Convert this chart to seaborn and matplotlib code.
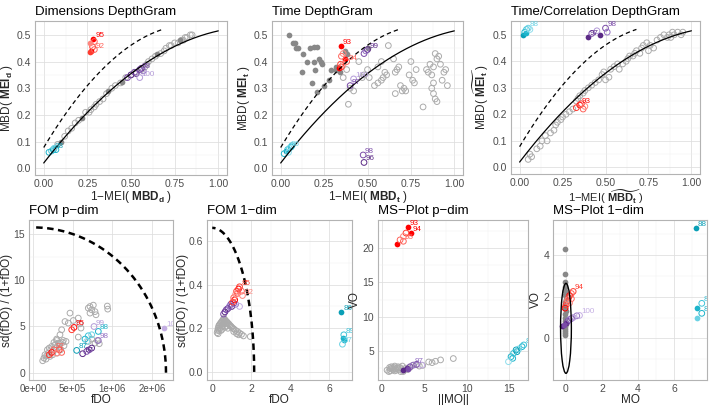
import numpy as np
import pandas as pd
import matplotlib
matplotlib.use("Agg")
import matplotlib.pyplot as plt
from matplotlib.patches import Ellipse
import seaborn as sns

sns.set_theme(style="whitegrid")
plt.rcParams['font.family'] = ['Liberation Sans', 'DejaVu Sans']
plt.rcParams['mathtext.fontset'] = 'custom'
plt.rcParams['mathtext.rm'] = 'Liberation Sans'
plt.rcParams['mathtext.bf'] = 'Liberation Sans:bold'
plt.rcParams['mathtext.it'] = 'Liberation Sans:italic'

# ---------------- data ----------------
# reference curves of the DepthGram (quadratic coefficients, x range)
curve_solid = [0.02, 0.845, -0.35]
curve_solid_xmax = 1.0
curve_dash = [0.078, 1.089, -0.645]
curve_dash_xmax = 0.68

# Panel 1: Dimensions DepthGram
p1_gray_x = [0.08, 0.12, 0.14, 0.16, 0.18, 0.20, 0.24, 0.26, 0.27, 0.29, 0.30, 0.32, 0.34, 0.36, 0.39,
             0.41, 0.44, 0.47, 0.50, 0.53, 0.56, 0.58, 0.59, 0.60, 0.62, 0.64, 0.67, 0.69, 0.70, 0.72,
             0.73, 0.75, 0.77, 0.79, 0.80, 0.81, 0.82, 0.84, 0.85]
p1_gray_y = [0.09, 0.12, 0.14, 0.15, 0.17, 0.18, 0.21, 0.21, 0.22, 0.23, 0.24, 0.25, 0.26, 0.28, 0.30,
             0.31, 0.32, 0.34, 0.35, 0.36, 0.37, 0.38, 0.39, 0.40, 0.41, 0.42, 0.43, 0.44, 0.45, 0.46,
             0.46, 0.47, 0.47, 0.48, 0.48, 0.49, 0.49, 0.50, 0.50]
p1_grayf_x = [0.10, 0.22, 0.37, 0.45, 0.65, 0.78]
p1_grayf_y = [0.10, 0.19, 0.29, 0.325, 0.43, 0.48]
p1_out_x = [0.285, 0.29, 0.265, 0.28, 0.29, 0.27, 0.265,
            0.03, 0.045, 0.055, 0.06, 0.07,
            0.48, 0.50, 0.52, 0.53, 0.55, 0.57, 0.55, 0.56]
p1_out_y = [0.485, 0.475, 0.47, 0.455, 0.445, 0.44, 0.435,
            0.06, 0.065, 0.07, 0.075, 0.07,
            0.34, 0.35, 0.36, 0.355, 0.37, 0.365, 0.34, 0.375]
p1_out_lab = ['95', '', '', '', '92', '', '',
              '', '', '88', '', '',
              '', '', '', '', '98', '', '100', '']
p1_out_col = ['r0', 'r2', 'r3', 'r1', 'r2', 'r0', 'r1',
              'c1', 'c2', 'c0', 'c3', 'c1',
              'p1', 'p0', 'p1', 'p0', 'p1', 'p2', 'p3', 'p0']
p1_out_fill = [1, 0, 1, 0, 0, 1, 1,
               0, 0, 0, 0, 0,
               0, 0, 0, 0, 0, 0, 0, 0]

# Panel 2: Time DepthGram
p2_grayf_x = [0.05, 0.07, 0.08, 0.09, 0.10, 0.13, 0.17, 0.19, 0.21, 0.15, 0.19, 0.12, 0.22, 0.23, 0.24,
              0.20, 0.18, 0.21, 0.25, 0.28, 0.29, 0.32, 0.34, 0.32, 0.37, 0.38, 0.50, 0.37]
p2_grayf_y = [0.50, 0.47, 0.47, 0.45, 0.45, 0.43, 0.45, 0.455, 0.455, 0.40, 0.40, 0.36, 0.41, 0.40, 0.39,
              0.37, 0.32, 0.285, 0.31, 0.33, 0.37, 0.37, 0.36, 0.38, 0.44, 0.43, 0.45, 0.41]
p2_gray_x = [0.39, 0.40, 0.42, 0.45, 0.48, 0.50, 0.51, 0.54, 0.56, 0.58, 0.59, 0.61, 0.58, 0.62, 0.65,
             0.66, 0.67, 0.68, 0.69, 0.70, 0.71, 0.72, 0.74, 0.75, 0.76, 0.77, 0.78, 0.82, 0.84, 0.85,
             0.86, 0.87, 0.87, 0.88, 0.88, 0.88, 0.89, 0.90, 0.89, 0.90, 0.91, 0.92, 0.93, 0.94, 0.95,
             0.96, 0.56, 0.60, 0.47, 0.66, 0.38, 0.36]
p2_gray_y = [0.24, 0.30, 0.29, 0.40, 0.35, 0.37, 0.34, 0.31, 0.32, 0.33, 0.34, 0.35, 0.40, 0.46, 0.41,
             0.28, 0.37, 0.38, 0.31, 0.29, 0.30, 0.29, 0.35, 0.40, 0.33, 0.32, 0.37, 0.23, 0.37, 0.36,
             0.39, 0.35, 0.30, 0.38, 0.32, 0.28, 0.26, 0.25, 0.43, 0.41, 0.42, 0.39, 0.33, 0.36, 0.37,
             0.31, 0.38, 0.36, 0.34, 0.36, 0.37, 0.34]
p2_out_x = [0.35, 0.36, 0.35, 0.37, 0.38, 0.345, 0.36, 0.35, 0.335,
            0.48, 0.49, 0.50, 0.42, 0.40, 0.475, 0.48,
            0.02, 0.03, 0.04, 0.05, 0.06, 0.045, 0.065]
p2_out_y = [0.46, 0.43, 0.42, 0.41, 0.40, 0.39, 0.39, 0.38, 0.375,
            0.43, 0.44, 0.445, 0.335, 0.31, 0.05, 0.022,
            0.055, 0.065, 0.07, 0.075, 0.08, 0.06, 0.085]
p2_out_lab = ['93', '', '', '', '94', '', '', '', '',
              '', '', '99', '100', '97', '98', '96',
              '', '', '', '86', '', '', '']
p2_out_col = ['r0', 'r3', 'r2', 'r0', 'r2', 'r1', 'r3', 'r1', 'r0',
              'p1', 'p2', 'p0', 'p3', 'p1', 'p1', 'p0',
              'c1', 'c0', 'c2', 'c3', 'c1', 'c4', 'c2']
p2_out_fill = [1, 0, 0, 1, 0, 0, 0, 0, 1,
               0, 0, 0, 0, 0, 0, 0,
               0, 1, 0, 0, 0, 0, 0]

# Panel 3: Time/Correlation DepthGram
p3_gray_x = [0.05, 0.07, 0.06, 0.10, 0.12, 0.13, 0.15, 0.16, 0.18, 0.20, 0.21, 0.22, 0.24, 0.25, 0.27,
             0.29, 0.31, 0.33, 0.34, 0.35, 0.37, 0.38, 0.40, 0.42, 0.44, 0.46, 0.48, 0.49, 0.50, 0.52,
             0.53, 0.55, 0.57, 0.58, 0.60, 0.62, 0.63, 0.64, 0.66, 0.67, 0.68, 0.70, 0.71, 0.72, 0.74,
             0.75, 0.76, 0.78, 0.80, 0.82, 0.84, 0.86, 0.87, 0.88, 0.89, 0.90, 0.92, 0.94, 0.95]
p3_gray_y = [0.03, 0.04, 0.05, 0.07, 0.08, 0.10, 0.12, 0.10, 0.13, 0.14, 0.16, 0.17, 0.18, 0.19, 0.20,
             0.21, 0.22, 0.25, 0.26, 0.27, 0.28, 0.29, 0.30, 0.31, 0.32, 0.33, 0.35, 0.36, 0.33, 0.34,
             0.37, 0.38, 0.39, 0.37, 0.39, 0.40, 0.41, 0.42, 0.42, 0.43, 0.44, 0.43, 0.45, 0.46, 0.47,
             0.44, 0.46, 0.45, 0.48, 0.49, 0.50, 0.49, 0.50, 0.49, 0.51, 0.50, 0.51, 0.50, 0.51]
p3_out_x = [0.02, 0.03, 0.04, 0.05, 0.06, 0.035,
            0.40, 0.42, 0.47, 0.45, 0.50, 0.51,
            0.33, 0.35, 0.37, 0.38, 0.36]
p3_out_y = [0.50, 0.51, 0.52, 0.525, 0.52, 0.505,
            0.49, 0.505, 0.50, 0.515, 0.525, 0.51,
            0.225, 0.235, 0.22, 0.23, 0.24]
p3_out_lab = ['', '', '', '88', '', '',
              '97', '', '', '', '98', '',
              '', '93', '', '', '']
p3_out_col = ['c0', 'c1', 'c2', 'c3', 'c4', 'c1',
              'p0', 'p1', 'p0', 'p3', 'p1', 'p2',
              'r1', 'r0', 'r2', 'r3', 'r1']
p3_out_fill = [1, 0, 0, 0, 0, 1,
               1, 0, 1, 0, 0, 0,
               0, 0, 0, 0, 0]

# Panel 4: FOM p-dim (fDO on a square-root axis)
fom_p_arc = [2.82e6, 15.7]
p4_ticks = [0, 2.5e5, 1.0e6, 2.25e6]
p4_ticklabels = ['0e+00', '5e+05', '1e+06', '2e+06']
p4_gray_x = [1.5e4, 1.9e4, 2.7e4, 3.0e4, 3.8e4, 4.6e4, 5.0e4, 5.6e4, 6.6e4, 7.7e4, 8.4e4, 9.4e4, 1.02e5,
             1.1e5, 1.22e5, 1.4e5, 1.53e5, 1.74e5, 2.3e4, 4.2e4, 7.0e4, 3.3e4, 6.2e4, 1.16e5, 8.9e4,
             2.18e5, 1.63e5, 1.99e5, 2.59e5, 3.27e5, 3.52e5, 3.67e5, 1.31e5, 1.16e5, 3.27e5, 8.9e4, 1.47e5,
             4.87e5, 5.18e5, 5.49e5, 5.8e5, 6.13e5, 6.33e5, 8.8e5, 8.9e5, 5.18e5,
             4.87e5, 5.49e5, 6.13e5, 6.6e5, 7.0e5]
p4_gray_y = [1.29, 1.58, 1.47, 1.83, 2.12, 1.76, 2.48, 2.84, 2.30, 3.02, 2.66, 2.12, 3.20,
             2.84, 2.48, 3.27, 2.91, 3.38, 1.94, 2.66, 3.27, 2.48, 1.94, 3.20, 3.48,
             6.44, 5.53, 5.36, 5.64, 5.90, 5.28, 4.82, 4.64, 4.10, 3.85, 3.63, 3.48,
             6.98, 7.15, 6.80, 7.30, 6.60, 6.26, 7.20, 6.87, 6.44,
             3.38, 3.63, 3.20, 3.48, 3.13]
p4_out_x = [4.2e4, 5.6e4, 7.0e4, 8.9e4, 1.1e5, 1.31e5, 2.39e5, 2.68e5,
            3.04e5, 4.31e5, 4.87e5, 5.49e5, 6.8e5, 4.6e5,
            3.93e5, 4.6e5, 5.49e5, 6.8e5, 5.93e5, 5.05e5, 2.75e6]
p4_out_y = [1.94, 2.19, 2.48, 2.12, 2.48, 2.19, 4.64, 4.89,
            2.41, 3.63, 3.99, 4.10, 4.46, 3.38,
            2.05, 2.30, 2.66, 3.48, 4.99, 2.48, 4.82]
p4_out_lab = ['', '', '92', '', '', '', '', '95',
              '87', '', '', '', '88', '',
              '97', '', '', '98', '99', '', '100']
p4_out_col = ['r1', 'r0', 'r2', 'r3', 'r1', 'r2', 'r1', 'r0',
              'c0', 'c1', 'c2', 'c3', 'c1', 'c4',
              'p0', 'p1', 'p0', 'p2', 'p3', 'p1', 'p4']
p4_out_fill = [0, 0, 0, 0, 0, 0, 0, 0,
               0, 0, 0, 0, 0, 0,
               0, 0, 0, 0, 0, 0, 1]

# Panel 5: FOM 1-dim
fom_1_arc = [2.15, 0.66]
p5_gray_x = [0.25, 0.28, 0.30, 0.33, 0.36, 0.40, 0.44, 0.48, 0.52, 0.56, 0.60, 0.64, 0.68, 0.72, 0.76,
             0.80, 0.85, 0.90, 0.95, 1.00, 1.06, 1.12, 1.20, 1.30, 1.40, 1.50, 1.60, 1.95, 0.40, 0.50,
             0.60, 0.70, 0.50, 0.65, 0.45, 0.55, 0.35, 0.75, 0.80, 0.62, 0.30, 1.35, 1.25, 1.10]
p5_gray_y = [0.18, 0.19, 0.20, 0.21, 0.215, 0.22, 0.225, 0.23, 0.235, 0.24, 0.245, 0.24, 0.235, 0.232, 0.228,
             0.224, 0.22, 0.214, 0.21, 0.205, 0.20, 0.196, 0.19, 0.185, 0.178, 0.172, 0.165, 0.162, 0.20, 0.21,
             0.225, 0.22, 0.195, 0.205, 0.19, 0.22, 0.19, 0.21, 0.20, 0.23, 0.175, 0.17, 0.175, 0.185]
p5_out_x = [1.05, 1.10, 1.15, 1.20, 1.25, 1.30, 1.35, 1.40, 1.50, 1.55,
            0.58, 0.65, 0.72, 0.80, 0.88, 0.95, 1.00, 1.10, 1.20, 1.40,
            6.63, 6.72, 6.75, 6.68, 6.78]
p5_out_y = [0.32, 0.34, 0.33, 0.355, 0.37, 0.36, 0.38, 0.39, 0.37, 0.35,
            0.265, 0.275, 0.285, 0.29, 0.30, 0.31, 0.30, 0.315, 0.31, 0.30,
            0.274, 0.155, 0.17, 0.127, 0.148]
p5_out_lab = ['', '', '', '', '', '', '', '85', '', '92',
              '', '', '', '', '', '', '', '', '', '',
              '86', '', '89', '87', '']
p5_out_col = ['r1', 'r2', 'r0', 'r3', 'r1', 'r2', 'r0', 'r1', 'r2', 'r3',
              'p1', 'p0', 'p1', 'p0', 'p2', 'p1', 'p0', 'p1', 'p2', 'p4',
              'c0', 'c1', 'c2', 'c3', 'c1']
p5_out_fill = [0, 0, 0, 0, 0, 0, 0, 0, 0, 0,
               0, 0, 0, 0, 0, 0, 0, 0, 0, 0,
               1, 1, 0, 0, 1]

# Panel 6: MS-Plot p-dim
p6_gray_x = [0.6, 0.8, 0.9, 1.0, 1.1, 1.2, 1.3, 1.4, 1.5, 1.6, 1.7, 1.8, 1.9, 2.0, 2.1, 2.2, 2.3, 2.4,
             2.6, 2.8, 3.0, 3.3, 3.6, 4.0, 4.4, 4.8, 5.5, 5.9, 6.3, 6.9, 8.4, 1.0, 1.5, 2.5]
p6_gray_y = [2.2, 2.0, 2.6, 2.4, 2.7, 2.5, 2.3, 2.6, 2.8, 2.4, 2.2, 2.5, 2.7, 2.3, 2.6, 2.0, 2.4, 2.8,
             2.2, 2.5, 2.3, 2.6, 2.9, 3.0, 2.8, 2.9, 3.4, 3.3, 3.5, 3.7, 3.9, 2.1, 2.1, 2.0]
p6_out_x = [1.73, 2.13, 2.52, 2.83, 3.10, 3.39, 2.52,
            14.9, 15.2, 15.5, 15.8, 16.1, 16.5, 16.7, 15.4, 15.9,
            2.52, 2.91, 3.30, 3.70, 4.10, 4.69, 3.10]
p6_out_y = [20.58, 21.2, 21.7, 22.2, 23.1, 22.2, 21.0,
            3.44, 4.17, 4.66, 5.15, 5.30, 5.63, 5.88, 3.93, 4.90,
            2.23, 2.47, 2.70, 2.95, 3.05, 2.95, 2.37]
p6_out_lab = ['', '', '', '', '93', '94', '95',
              '', '', '', '', '', '', '88', '', '',
              '', '', '', '97', '', '', '']
p6_out_col = ['r0', 'r2', 'r3', 'r1', 'r0', 'r0', 'r2',
              'c4', 'c1', 'c2', 'c0', 'c3', 'c1', 'c2', 'c1', 'c0',
              'p0', 'p0', 'p1', 'p2', 'p1', 'p4', 'p1']
p6_out_fill = [1, 0, 0, 0, 1, 1, 0,
               0, 0, 0, 0, 0, 0, 0, 0, 0,
               1, 1, 0, 0, 0, 0, 1]

# Panel 7: MS-Plot 1-dim
ms1_ellipse = [0.0, 0.48, 0.6, 4.32]
p7_gray_x = [-0.06, -0.05, -0.05, -0.04, -0.03, -0.05, -0.02, -0.04, -0.03, -0.06,
             -0.02, -0.05, -0.03, -0.04, -0.02, -0.05, -0.04, -0.03, -0.05, -0.06]
p7_gray_y = [4.28, 3.08, 2.72, 2.45, 2.25, 2.10, 1.90, 1.75, 1.60, 1.45,
             1.30, 1.15, 1.00, 0.85, 0.70, 0.55, 0.45, 0.35, 0.25, 0.15]
p7_out_x = [-0.05, 0.00, 0.05, 0.10, 0.15, 0.20, 0.30, 0.40, 0.20, 0.30,
            -0.20, -0.10, 0.00, 0.10, 0.20, 0.30, 0.40, 0.60, 0.75,
            7.20, 7.26, 7.54, 7.26, 7.54]
p7_out_y = [1.45, 1.60, 1.75, 1.85, 1.95, 2.05, 2.15, 2.25, 1.70, 1.90,
            0.58, 0.66, 0.74, 0.82, 0.90, 0.95, 1.00, 1.08, 1.10,
            5.29, 1.47, 1.68, 0.96, 1.20]
p7_out_lab = ['', '', '', '', '', '', '', '94', '', '',
              '', '', '', '', '', '', '', '', '100',
              '88', '', '86', '', '87']
p7_out_col = ['r0', 'r1', 'r2', 'r3', 'r1', 'r0', 'r2', 'r1', 'r3', 'r2',
              'p0', 'p1', 'p0', 'p1', 'p2', 'p1', 'p3', 'p2', 'p4',
              'c0', 'c1', 'c2', 'c3', 'c1']
p7_out_fill = [0, 0, 0, 0, 0, 0, 0, 0, 0, 0,
               1, 1, 1, 0, 0, 0, 0, 0, 0,
               1, 1, 0, 1, 0]

SHADES = {
    'r0': '#FF0000', 'r1': '#FF3B2F', 'r2': '#FF6259', 'r3': '#FF857D', 'r4': '#FFA8A2',
    'p0': '#5B2A86', 'p1': '#7A4BA8', 'p2': '#9370C2', 'p3': '#B39AD8', 'p4': '#C4AEE3',
    'c0': '#0A9FB6', 'c1': '#1CB4CB', 'c2': '#3EC3D9', 'c3': '#6BD2E4', 'c4': '#8EDDEC',
}
GRAY_H = '#ABABAB'
GRAY_F = '#888888'

TICK_FS = 7.5
LAB_FS = 8.5

# ---------------- helpers ----------------
W, H = 709, 405
fig = plt.figure(figsize=(W / 100, H / 100), dpi=100)


def rect(l, r, t, b):
    return [l / W, 1 - b / H, (r - l) / W, (b - t) / H]


def style(ax, title):
    ax.set_facecolor('white')
    for sp in ax.spines.values():
        sp.set_color('#B3B3B3')
        sp.set_linewidth(0.8)
    ax.grid(True, which='major', color='#DEDEDE', linewidth=0.55)
    ax.grid(True, which='minor', color='#EFEFEF', linewidth=0.35)
    ax.tick_params(axis='both', which='major', labelsize=TICK_FS, colors='#4D4D4D', length=1.8,
                   width=0.5, color='#B3B3B3', pad=1.0)
    ax.tick_params(axis='both', which='minor', length=0)
    ax.set_title(title, loc='left', fontsize=9.5, color='black', pad=4)
    ax.set_axisbelow(True)


def scatter(ax, xs, ys, col, filled, s=17, lw=0.7):
    df = pd.DataFrame({'x': xs, 'y': ys})
    if filled:
        sns.scatterplot(data=df, x='x', y='y', ax=ax, color=col, s=s, linewidth=0, legend=False)
    else:
        sns.scatterplot(data=df, x='x', y='y', ax=ax, s=s, facecolor='none', edgecolor=col,
                        linewidth=lw, legend=False)


def outliers(ax, xs, ys, labs, cols, fills):
    df = pd.DataFrame({'x': xs, 'y': ys, 'lab': labs, 'col': cols, 'fill': fills})
    for (c, f), g in df.groupby(['col', 'fill']):
        scatter(ax, g['x'].values, g['y'].values, SHADES[c], bool(f))
    for _, r in df.iterrows():
        if r['lab']:
            ax.annotate(r['lab'], (r['x'], r['y']), xytext=(1.2, 0.0), textcoords='offset points',
                        fontsize=5.8, color=SHADES[r['col']], ha='left', va='bottom',
                        clip_on=True, annotation_clip=True)


def depth_curves(ax):
    xs = np.linspace(0, curve_solid_xmax, 200)
    ys = curve_solid[0] + curve_solid[1] * xs + curve_solid[2] * xs ** 2
    sns.lineplot(x=xs, y=ys, ax=ax, color='black', linewidth=0.9, sort=False)
    xd = np.linspace(0, curve_dash_xmax, 200)
    yd = curve_dash[0] + curve_dash[1] * xd + curve_dash[2] * xd ** 2
    sns.lineplot(x=xd, y=yd, ax=ax, color='black', linewidth=0.9, sort=False, linestyle=(0, (3.5, 2.5)))


def depth_axes(ax, xlab, ylab, xfs=LAB_FS):
    ax.set_xlim(-0.05, 1.05)
    ax.set_ylim(-0.025, 0.552)
    ax.set_xticks([0, 0.25, 0.5, 0.75, 1.0])
    ax.set_xticklabels(['0.00', '0.25', '0.50', '0.75', '1.00'])
    ax.set_yticks([0, 0.1, 0.2, 0.3, 0.4, 0.5])
    ax.set_yticklabels(['0.0', '0.1', '0.2', '0.3', '0.4', '0.5'])
    ax.set_xticks([0.125, 0.375, 0.625, 0.875], minor=True)
    ax.set_yticks([0.05, 0.15, 0.25, 0.35, 0.45], minor=True)
    ax.set_xlabel(xlab, fontsize=xfs, labelpad=0)
    ax.set_ylabel(ylab, fontsize=LAB_FS, labelpad=1)


# ---------------- Panel 1 ----------------
ax1 = fig.add_axes(rect(35, 227, 21, 175))
style(ax1, 'Dimensions DepthGram')
scatter(ax1, p1_gray_x, p1_gray_y, GRAY_H, False)
scatter(ax1, p1_grayf_x, p1_grayf_y, GRAY_F, True)
depth_curves(ax1)
outliers(ax1, p1_out_x, p1_out_y, p1_out_lab, p1_out_col, p1_out_fill)
depth_axes(ax1, r'1−MEI( $\mathbf{MBD_d}$ )', r'MBD( $\mathbf{MEI_d}$ )')

# ---------------- Panel 2 ----------------
ax2 = fig.add_axes(rect(272, 463, 21, 175))
style(ax2, 'Time DepthGram')
scatter(ax2, p2_gray_x, p2_gray_y, GRAY_H, False)
scatter(ax2, p2_grayf_x, p2_grayf_y, GRAY_F, True)
depth_curves(ax2)
outliers(ax2, p2_out_x, p2_out_y, p2_out_lab, p2_out_col, p2_out_fill)
depth_axes(ax2, r'1−MEI( $\mathbf{MBD_t}$ )', r'MBD( $\mathbf{MEI_t}$ )')

# ---------------- Panel 3 ----------------
ax3 = fig.add_axes(rect(511, 700, 21, 174))
style(ax3, 'Time/Correlation DepthGram')
scatter(ax3, p3_gray_x, p3_gray_y, GRAY_H, False)
depth_curves(ax3)
outliers(ax3, p3_out_x, p3_out_y, p3_out_lab, p3_out_col, p3_out_fill)
depth_axes(ax3, r'1−MEI( $\widetilde{\mathbf{MBD_t}}$ )', r'MBD( $\widetilde{\mathbf{MEI_t}}$ )', xfs=8)

# ---------------- Panel 4 ----------------
ax4 = fig.add_axes(rect(29, 173, 220, 380))
style(ax4, 'FOM p−dim')
ax4.set_xscale('function', functions=(lambda v: np.sign(v) * np.sqrt(np.abs(v)),
                                      lambda v: np.sign(v) * v ** 2))
scatter(ax4, p4_gray_x, p4_gray_y, GRAY_H, False)
th = np.linspace(0, np.pi / 2, 200)
arc_x = (np.sqrt(fom_p_arc[0]) * np.cos(th)) ** 2
arc_y = fom_p_arc[1] * np.sin(th)
sns.lineplot(x=arc_x, y=arc_y, ax=ax4, color='black', linewidth=1.8, sort=False,
             linestyle=(0, (2.6, 1.8)))
outliers(ax4, p4_out_x, p4_out_y, p4_out_lab, p4_out_col, p4_out_fill)
ax4.set_xlim(-2550, 3.125e6)
ax4.set_ylim(-0.79, 16.5)
ax4.set_xticks(p4_ticks)
ax4.set_xticklabels(p4_ticklabels)
ax4.set_xticks([], minor=True)
ax4.set_yticks([0, 5, 10, 15])
ax4.set_yticks([2.5, 7.5, 12.5], minor=True)
ax4.tick_params(axis='x', labelsize=7)
ax4.set_xlabel('fDO', fontsize=LAB_FS, labelpad=0)
ax4.set_ylabel('sd(fDO) / (1+fDO)', fontsize=LAB_FS, labelpad=0.5)

# ---------------- Panel 5 ----------------
ax5 = fig.add_axes(rect(207, 352, 220, 380))
style(ax5, 'FOM 1−dim')
scatter(ax5, p5_gray_x, p5_gray_y, GRAY_H, False)
arc5_x = fom_1_arc[0] * np.cos(th)
arc5_y = fom_1_arc[1] * np.sin(th)
sns.lineplot(x=arc5_x, y=arc5_y, ax=ax5, color='black', linewidth=1.8, sort=False,
             linestyle=(0, (2.6, 1.8)))
outliers(ax5, p5_out_x, p5_out_y, p5_out_lab, p5_out_col, p5_out_fill)
ax5.set_xlim(-0.27, 7.17)
ax5.set_ylim(-0.037, 0.696)
ax5.set_xticks([0, 2, 4, 6])
ax5.set_xticks([1, 3, 5, 7], minor=True)
ax5.set_yticks([0, 0.2, 0.4, 0.6])
ax5.set_yticklabels(['0.0', '0.2', '0.4', '0.6'])
ax5.set_yticks([0.1, 0.3, 0.5], minor=True)
ax5.set_xlabel('fDO', fontsize=LAB_FS, labelpad=0)
ax5.set_ylabel('sd(fDO) / (1+fDO)', fontsize=LAB_FS, labelpad=0)

# ---------------- Panel 6 ----------------
ax6 = fig.add_axes(rect(378, 528, 220, 380))
style(ax6, 'MS−Plot p−dim')
scatter(ax6, p6_gray_x, p6_gray_y, GRAY_H, False)
outliers(ax6, p6_out_x, p6_out_y, p6_out_lab, p6_out_col, p6_out_fill)
ax6.set_xlim(-0.47, 17.2)
ax6.set_ylim(0.77, 24.1)
ax6.set_xticks([0, 5, 10, 15])
ax6.set_xticks([2.5, 7.5, 12.5], minor=True)
ax6.set_yticks([5, 10, 15, 20])
ax6.set_yticks([2.5, 7.5, 12.5, 17.5, 22.5], minor=True)
ax6.set_xlabel('||MO||', fontsize=LAB_FS, labelpad=0)
ax6.set_ylabel('VO', fontsize=LAB_FS, labelpad=1)

# ---------------- Panel 7 ----------------
ax7 = fig.add_axes(rect(553, 707, 220, 380))
style(ax7, 'MS−Plot 1−dim')
scatter(ax7, p7_gray_x, p7_gray_y, GRAY_F, True)
ax7.add_patch(Ellipse((ms1_ellipse[0], ms1_ellipse[1]), ms1_ellipse[2], ms1_ellipse[3],
                      fill=False, edgecolor='black', linewidth=1.0, zorder=3))
outliers(ax7, p7_out_x, p7_out_y, p7_out_lab, p7_out_col, p7_out_fill)
ax7.set_xlim(-0.72, 7.83)
ax7.set_ylim(-2.0, 5.68)
ax7.set_xticks([0, 2, 4, 6])
ax7.set_xticks([1, 3, 5, 7], minor=True)
ax7.set_yticks([0, 2, 4])
ax7.set_yticks([-1, 1, 3, 5], minor=True)
ax7.set_xlabel('MO', fontsize=LAB_FS, labelpad=0)
ax7.set_ylabel('VO', fontsize=LAB_FS, labelpad=1)

fig.savefig('out.png', dpi=100)
